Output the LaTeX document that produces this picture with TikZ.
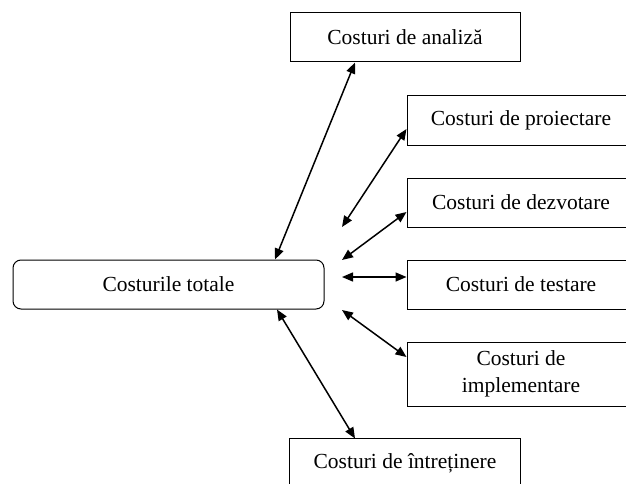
\documentclass[tikz,border=0pt]{standalone}
\usepackage{fontspec}
\setmainfont{Liberation Serif}
\usetikzlibrary{arrows.meta}
\tikzset{
  box/.style={draw, line width=1pt, inner sep=0pt, align=center, font=\fontsize{21.5}{27}\selectfont},
  rbox/.style={box, rounded corners=8pt},
  link/.style={line width=1.5pt, {Triangle[length=11pt,width=9pt]}-{Triangle[length=11pt,width=9pt]}}
}
\begin{document}
\begin{tikzpicture}[x=1pt,y=-1pt]
\useasboundingbox (0,0) rectangle (626,484);
\clip (0,0) rectangle (626,484);
\node[box, minimum width=230pt, minimum height=49pt] (ana) at (405,37.5) {Costuri de analiză};
\node[rbox, minimum width=311pt, minimum height=49pt] (tot) at (168.5,284.5) {Costurile totale};
\node[box, minimum width=228pt, minimum height=49pt] (pro) at (521,120.5) {Costuri de proiectare};
\node[box, minimum width=228pt, minimum height=49pt] (dez) at (521,202.5) {Costuri de dezvotare};
\node[box, minimum width=228pt, minimum height=49pt] (tes) at (521,284.5) {Costuri de testare};
\node[box, minimum width=228pt, minimum height=64pt] (imp) at (521,374) {Costuri de\\implementare};
\node[box, draw=none, minimum width=230pt, minimum height=49pt] (int) at (405,463.5) {Costuri de întreținere};
\draw[line width=1pt] ([yshift=-20pt]int.south west) -- (int.north west) -- (int.north east) -- ([yshift=-20pt]int.south east);
\coordinate (p1) at (342,227);
\coordinate (p2) at (342,260);
\coordinate (p3) at (342,277);
\coordinate (p4) at (342,310);
\draw[link] (tot.north -| 275,0) -- (ana.south -| 355,0);
\draw[link] (p1) -- (pro.west |- 0,129);
\draw[link] (p2) -- (dez.west |- 0,212);
\draw[link] (p3) -- (tes.west |- 0,277);
\draw[link] (p4) -- (imp.west |- 0,357);
\draw[link] (tot.south -| 277,0) -- (int.north -| 355,0);
\end{tikzpicture}
\end{document}
